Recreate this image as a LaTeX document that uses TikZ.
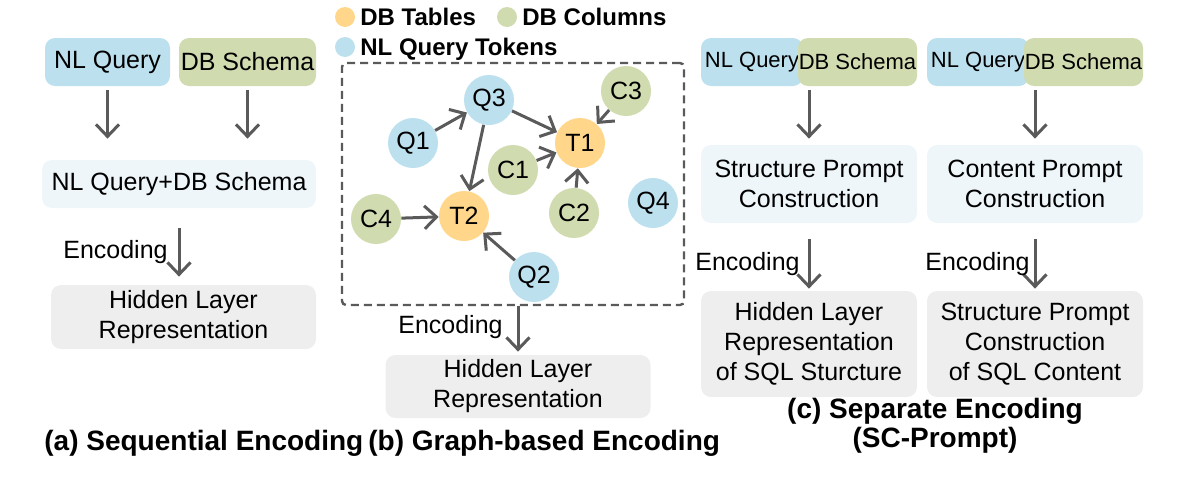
\documentclass[tikz,border=0pt]{standalone}
\usepackage{fontspec}
\setmainfont{Liberation Sans}
\usetikzlibrary{positioning,arrows.meta,calc}
\definecolor{qblue}{HTML}{BCE0EE}
\definecolor{cgreen}{HTML}{D0DBB0}
\definecolor{torange}{HTML}{FFD68A}
\definecolor{pale}{HTML}{EEF6FA}
\definecolor{hidgray}{HTML}{EEEEEE}
\definecolor{arr}{HTML}{5A5A5A}
\tikzset{
  txt/.style ={font=\fontsize{12.5}{15}\selectfont, text=black},
  box/.style ={txt, rectangle, rounded corners=5pt, inner sep=0pt, align=center},
  nlq/.style ={box, fill=qblue, minimum height=24pt},
  dbs/.style ={box, fill=cgreen, minimum height=24pt},
  smq/.style ={font=\fontsize{11}{13}\selectfont},
  cmb/.style ={box, fill=pale},
  hid/.style ={box, fill=hidgray},
  tok/.style ={txt, circle, fill=qblue, minimum size=25pt, inner sep=0pt},
  col/.style ={tok, fill=cgreen},
  tab/.style ={tok, fill=torange},
  dot/.style ={circle, minimum size=10pt, inner sep=0pt},
  e/.style   ={-{Straight Barb[length=6pt,width=11.5pt]}, draw=arr, line width=1.5pt},
  lbl/.style ={txt, inner sep=0pt},
  leg/.style ={font=\fontsize{12}{14}\bfseries\selectfont, inner sep=0pt},
  ttl/.style ={font=\fontsize{14}{13}\bfseries\selectfont, inner sep=0pt, align=center},
  frm/.style ={draw=arr, dash pattern=on 4pt off 2.5pt, line width=1.2pt, rounded corners=2pt,
               minimum width=171pt, minimum height=121pt},
}
\begin{document}
\begin{tikzpicture}[x=0.5pt, y=-0.5pt]
\useasboundingbox (0,0) rectangle (1194,493);
%% ---------- (a) sequential encoding ----------
\node[nlq, minimum width=62.5pt] (nlq1) at (107.5, 62) {NL Query};
\node[dbs, minimum width=68.5pt] (dbs1) at (247.5, 62) {DB Schema};
\node[cmb, minimum width=137pt, minimum height=24pt] (cmb1) at (179, 184) {NL Query+DB Schema};
\node[hid, minimum width=132.5pt, minimum height=32pt] (hid1) at (183.5, 317) {Hidden Layer\\Representation};
\draw[e, shorten <=2pt, shorten >=10.5pt] (nlq1) -- (nlq1 |- cmb1.north);
\draw[e, shorten <=2pt, shorten >=10.5pt] (dbs1) -- (dbs1 |- cmb1.north);
\draw[e, shorten <=10pt, shorten >=4pt] (cmb1) -- (cmb1 |- hid1.north);
\node[lbl, anchor=base east] (enc1) at (168, 258) {Encoding};
%% ---------- (b) graph-based encoding ----------
% legend
\node[dot, fill=torange] (ldt) at (345, 17) {};
\node[leg, anchor=base west] (ldtl) at (360, 25) {DB Tables};
\node[dot, fill=cgreen] (ldc) at (507, 17) {};
\node[leg, anchor=base west] (ldcl) at (522, 25) {DB Columns};
\node[dot, fill=qblue] (lqt) at (345, 47) {};
\node[leg, anchor=base west] (lqtl) at (360, 55) {NL Query Tokens};
% graph
\node[frm] (grph) at (513, 184) {};
\node[tok] (q3) at (489, 100) {Q3};
\node[tok] (q1) at (413, 143) {Q1};
\node[col] (c3) at (626, 91)  {C3};
\node[tab] (t1) at (580, 143) {T1};
\node[col] (c1) at (513, 170) {C1};
\node[col] (c2) at (574, 213) {C2};
\node[tok] (q4) at (653, 203) {Q4};
\node[col] (c4) at (376, 219) {C4};
\node[tab] (t2) at (464, 216) {T2};
\node[tok] (q2) at (534, 277) {Q2};
\draw[e] (q1) -- (q3);
\draw[e] (q3) -- (t1);
\draw[e] (q3) -- (t2);
\draw[e] (c3) -- (t1);
\draw[e] (c1) -- (t1);
\draw[e] (c2) -- (t1);
\draw[e] (c4) -- (t2);
\draw[e] (q2) -- (t2);
\node[hid, minimum width=132.5pt, minimum height=31.5pt] (hid2) at (518, 386.5) {Hidden Layer\\Representation};
\draw[e, shorten >=1.5pt] (hid2 |- grph.south) -- (hid2);
\node[lbl, anchor=base east] (enc2) at (503, 333) {Encoding};
%% ---------- (c) separate encoding ----------
\node[nlq, smq, minimum width=51pt] (nlq2) at (752, 62) {NL Query};
\node[dbs, smq, minimum width=59.5pt] (dbs2) at (857.5, 62) {DB Schema};
\node[nlq, smq, minimum width=51pt] (nlq3) at (978, 62) {NL Query};
\node[dbs, smq, minimum width=59.5pt] (dbs3) at (1083.5, 62) {DB Schema};
\node[cmb, minimum width=108pt, minimum height=39pt] (spc) at (809, 184) {Structure Prompt\\Construction};
\node[cmb, minimum width=108pt, minimum height=39pt] (cpc) at (1035, 184) {Content Prompt\\Construction};
\node[hid, minimum width=108pt, minimum height=53pt] (hidc) at (809, 344) {Hidden Layer\\Representation\\of SQL Sturcture};
\node[hid, minimum width=108pt, minimum height=53pt] (sqc) at (1035, 344) {Structure Prompt\\Construction\\of SQL Content};
\draw[e, shorten <=2pt, shorten >=3pt] (spc |- dbs2.south) -- (spc);
\draw[e, shorten <=2pt, shorten >=3pt] (cpc |- dbs3.south) -- (cpc);
\draw[e, shorten <=8pt, shorten >=1pt] (spc) -- (hidc);
\draw[e, shorten <=8pt, shorten >=1pt] (cpc) -- (sqc);
\node[lbl, anchor=base east] (enc3) at (800, 270) {Encoding};
\node[lbl, anchor=base east] (enc4) at (1030, 270) {Encoding};
%% ---------- captions ----------
\node[ttl, anchor=base west] (capa) at (44, 450) {(a) Sequential Encoding};
\node[ttl, anchor=base west] (capb) at (368, 450) {(b) Graph-based Encoding};
\node[ttl, anchor=base] (capc) at (935, 447) {(c) Separate Encoding\\(SC-Prompt)};
\end{tikzpicture}
\end{document}
